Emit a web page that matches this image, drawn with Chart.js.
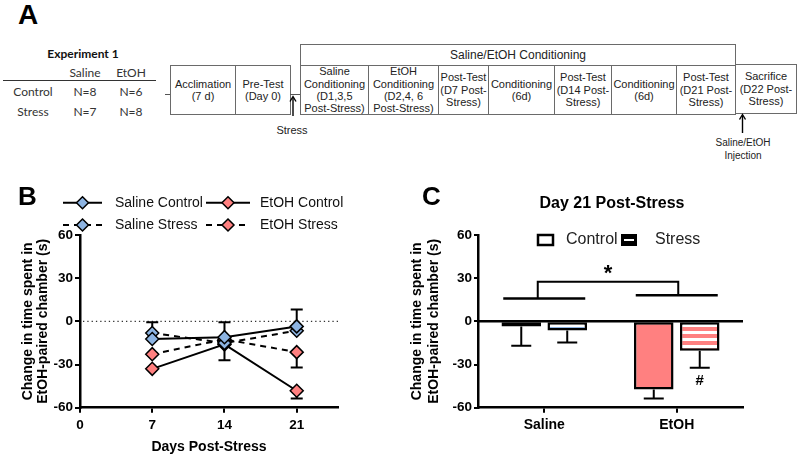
<!DOCTYPE html>
<html>
<head>
<meta charset="utf-8">
<script src="https://cdn.jsdelivr.net/npm/chart.js@4.4.1/dist/chart.umd.min.js"></script>
<style>
body { margin: 0; background: #fff; }
#fig { position: relative; width: 800px; height: 459px; overflow: hidden; font-family: "Liberation Sans", Arial, sans-serif; color: #222; }
.bx { position: absolute; box-sizing: border-box; border: 1px solid #6a6a6a; display: flex; align-items: center; justify-content: center; text-align: center; font-size: 11px; line-height: 12.4px; background: #fff; }
.t { position: absolute; white-space: nowrap; transform: translate(-50%, -50%); }
.tb { font-family: Lato, "Liberation Sans", sans-serif; font-size: 12px; color: #333; }
#chartB { position: absolute; left: 0; top: 180px; }
#chartC { position: absolute; left: 400px; top: 180px; }
</style>
</head>
<body>
<div id="fig">
  <!-- panel A: experiment layout -->
  <div class="t" style="left:28px;top:15px;font-weight:bold;font-size:28px;color:#000">A</div>
  <div class="t tb" style="left:83px;top:53px;font-weight:bold;color:#111">Experiment 1</div>
  <div class="t tb" style="left:85px;top:72px">Saline</div>
  <div class="t tb" style="left:131px;top:72px">EtOH</div>
  <div class="t tb" style="left:33px;top:91px">Control</div>
  <div class="t tb" style="left:85px;top:91px">N=8</div>
  <div class="t tb" style="left:131px;top:91px">N=6</div>
  <div class="t tb" style="left:33px;top:111px">Stress</div>
  <div class="t tb" style="left:85px;top:111px">N=7</div>
  <div class="t tb" style="left:131px;top:111px">N=8</div>

  <div class="bx" style="left:300px;top:44px;width:436px;height:22px;font-size:12px">Saline/EtOH Conditioning</div>
  <div class="bx" style="left:170px;top:65px;width:66px;height:50px">Acclimation<br>(7 d)</div>
  <div class="bx" style="left:235px;top:65px;width:56px;height:50px">Pre-Test<br>(Day 0)</div>
  <div class="bx" style="left:300px;top:65px;width:69px;height:50px">Saline<br>Conditioning<br>(D1,3,5<br>Post-Stress)</div>
  <div class="bx" style="left:368px;top:65px;width:71px;height:50px">EtOH<br>Conditioning<br>(D2,4, 6<br>Post-Stress)</div>
  <div class="bx" style="left:438px;top:65px;width:51px;height:50px">Post-Test<br>(D7 Post-<br>Stress)</div>
  <div class="bx" style="left:488px;top:65px;width:67px;height:50px">Conditioning<br>(6d)</div>
  <div class="bx" style="left:554px;top:65px;width:58px;height:50px">Post-Test<br>(D14 Post-<br>Stress)</div>
  <div class="bx" style="left:611px;top:65px;width:66px;height:50px">Conditioning<br>(6d)</div>
  <div class="bx" style="left:676px;top:65px;width:60px;height:50px">Post-Test<br>(D21 Post-<br>Stress)</div>
  <div class="bx" style="left:735px;top:64px;width:62px;height:50px">Sacrifice<br>(D22 Post-<br>Stress)</div>

  <svg width="800" height="180" style="position:absolute;left:0;top:0">
    <line x1="3" y1="80.5" x2="156" y2="80.5" stroke="#333" stroke-width="1"/>
    <line x1="165" y1="94.5" x2="170" y2="94.5" stroke="#555" stroke-width="1"/>
    <line x1="290" y1="94.5" x2="300" y2="94.5" stroke="#555" stroke-width="1"/>
    <line x1="293" y1="116" x2="293" y2="98" stroke="#000" stroke-width="1.4"/>
    <path d="M290 101.5 L293 96.5 L296 101.5" fill="none" stroke="#000" stroke-width="1.4"/>
    <line x1="742.5" y1="133" x2="742.5" y2="116" stroke="#000" stroke-width="1.4"/>
    <path d="M739.5 119.5 L742.5 114.5 L745.5 119.5" fill="none" stroke="#000" stroke-width="1.4"/>
  </svg>
  <div class="t" style="left:292px;top:130px;font-size:11px">Stress</div>
  <div class="t" style="left:743px;top:142px;font-size:10px">Saline/EtOH</div>
  <div class="t" style="left:743px;top:155px;font-size:10px">Injection</div>

  <canvas id="chartB" width="400" height="279"></canvas>
  <canvas id="chartC" width="400" height="279"></canvas>
</div>

<script>
// ---- panel B data ----
var days = [7, 14, 21];
var dayTicks = [0, 7, 14, 21];
var yTicks = [60, 30, 0, -30, -60];

var salineControl = [-12.3, -11.0, -3.5];
var etohControl   = [-33.0, -16.0, -48.2];
var salineStress  = [-8.1, -15.1, -6.5];
var etohStress    = [-22.8, -12.5, -21.4];

// SEM, only the visible half of each bar (0 = hidden)
var salineControlUp = [0, 10.3, 11.7];
var salineStressUp  = [7.4, 0, 0];
var etohControlDown = [0, 11.0, 5.4];
var etohStressDown  = [0, 0, 10.6];

// ---- panel C data ----
var groups = ['Saline', 'EtOH'];
var day21Control = [-3.5, -47.3];
var day21Stress  = [-6.3, -20.5];
var day21ControlErr = [13.5, 6.3];
var day21StressErr  = [8.4, 11.7];

// significance lines (y values)
var groupLineY = [15.8, 18.1];
var bracketTopY = 27.5;

var blue = '#8DB4E2';
var red = '#FF8080';
var FONT = '"Liberation Sans", Arial, sans-serif';

Chart.defaults.font.family = FONT;
Chart.defaults.color = '#000';

function lineSet(label, vals, fill, dashed, up, down, order) {
  return {
    label: label,
    order: order,
    data: days.map(function (d, i) { return { x: d, y: vals[i] }; }),
    errUp: up, errDown: down,
    borderColor: '#000', borderWidth: 2,
    borderDash: dashed ? [6, 5] : [],
    pointStyle: 'rectRot', pointRadius: 6.5, pointHoverRadius: 6.5,
    pointBackgroundColor: fill, pointBorderColor: '#000', pointBorderWidth: 1.5,
    fill: false, tension: 0, clip: false
  };
}

var zero = [0, 0, 0];

var bExtras = {
  id: 'bExtras',
  beforeDatasetsDraw: function (chart) {
    var ctx = chart.ctx, xs = chart.scales.x, ys = chart.scales.y, a = chart.chartArea;
    // dotted zero line
    ctx.save();
    ctx.strokeStyle = '#333'; ctx.lineWidth = 1.3; ctx.setLineDash([1.3, 3]);
    ctx.beginPath();
    ctx.moveTo(a.left + 3, ys.getPixelForValue(0));
    ctx.lineTo(a.right, ys.getPixelForValue(0));
    ctx.stroke();
    ctx.setLineDash([]);
    // error bars
    ctx.strokeStyle = '#000'; ctx.lineWidth = 2;
    chart.data.datasets.forEach(function (ds) {
      ds.data.forEach(function (p, i) {
        var px = xs.getPixelForValue(p.x), py = ys.getPixelForValue(p.y);
        [[ds.errUp[i], 1], [ds.errDown[i], -1]].forEach(function (e) {
          if (!e[0]) return;
          var ey = ys.getPixelForValue(p.y + e[1] * e[0]);
          ctx.beginPath();
          ctx.moveTo(px, py); ctx.lineTo(px, ey);
          ctx.moveTo(px - 6, ey); ctx.lineTo(px + 6, ey);
          ctx.stroke();
        });
      });
    });
    ctx.restore();
  },
  afterDraw: function (chart) {
    var ctx = chart.ctx;
    ctx.save();
    ctx.fillStyle = '#000';
    ctx.font = 'bold 26px ' + FONT;
    ctx.textBaseline = 'alphabetic';
    ctx.fillText('B', 18, 25);
    // legend: 2 columns, 2 rows
    var cols = [{ x0: 63, x1: 102, tx: 115 }, { x0: 206, x1: 250, tx: 260 }];
    var rows = [22.7, 45];
    ctx.font = '14px ' + FONT;
    ctx.textBaseline = 'middle';
    chart.data.datasets.forEach(function (ds, i) {
      var c = cols[i % 2], y = rows[Math.floor(i / 2)];
      var cx = (c.x0 + c.x1) / 2;
      ctx.strokeStyle = '#000'; ctx.lineWidth = 2;
      ctx.setLineDash(ds.borderDash);
      ctx.beginPath(); ctx.moveTo(c.x0, y); ctx.lineTo(c.x1, y); ctx.stroke();
      ctx.setLineDash([]);
      ctx.beginPath();
      ctx.moveTo(cx, y - 6); ctx.lineTo(cx + 6, y); ctx.lineTo(cx, y + 6); ctx.lineTo(cx - 6, y);
      ctx.closePath();
      ctx.fillStyle = ds.pointBackgroundColor; ctx.fill();
      ctx.lineWidth = 1.5; ctx.stroke();
      ctx.fillStyle = '#111';
      ctx.fillText(ds.label, c.tx, y);
    });
    ctx.restore();
  }
};

new Chart(document.getElementById('chartB'), {
  type: 'line',
  data: {
    datasets: [
      lineSet('Saline Control', salineControl, blue, false, salineControlUp, zero, 0),
      lineSet('EtOH Control', etohControl, red, false, zero, etohControlDown, 2),
      lineSet('Saline Stress', salineStress, blue, true, salineStressUp, zero, 1),
      lineSet('EtOH Stress', etohStress, red, true, zero, etohStressDown, 3)
    ]
  },
  options: {
    responsive: false,
    animation: false,
    layout: { padding: { left: 0, top: 55, right: 62, bottom: 0 } },
    plugins: { legend: { display: false }, tooltip: { enabled: false } },
    scales: {
      x: {
        type: 'linear', min: 0, max: 25,
        afterBuildTicks: function (s) { s.ticks = dayTicks.map(function (v) { return { value: v }; }); },
        afterFit: function (s) { s.height = 51.3; },
        ticks: { font: { size: 13.5, weight: 'bold' }, color: '#000', padding: 4 },
        grid: { drawOnChartArea: false, tickLength: 5, color: '#000', lineWidth: 2 },
        border: { color: '#000', width: 2.5 },
        title: { display: true, text: 'Days Post-Stress', color: '#000', font: { size: 14, weight: 'bold' }, padding: { top: 0, bottom: 3.6 } }
      },
      y: {
        min: -60, max: 60,
        afterBuildTicks: function (s) { s.ticks = yTicks.map(function (v) { return { value: v }; }); },
        afterFit: function (s) { s.width = 80; },
        ticks: { font: { size: 13.5, weight: 'bold' }, color: '#000', padding: 2 },
        grid: { drawOnChartArea: false, tickLength: 5, color: '#000', lineWidth: 2 },
        border: { color: '#000', width: 2.5 },
        title: { display: true, text: ['Change in time spent in', 'EtOH-paired chamber (s)'], color: '#000', font: { size: 14, weight: 'bold', lineHeight: 1.1 }, padding: { top: 20.5, bottom: 0 } }
      }
    }
  },
  plugins: [bExtras]
});

// ---- panel C ----
var ctxC = document.getElementById('chartC').getContext('2d');
function stripes(color) {
  var c = document.createElement('canvas');
  c.width = 4; c.height = 7;
  var g = c.getContext('2d');
  g.fillStyle = color; g.fillRect(0, 0, 4, 4);
  g.fillStyle = '#fff'; g.fillRect(0, 4, 4, 3);
  return ctxC.createPattern(c, 'repeat');
}

var cExtras = {
  id: 'cExtras',
  beforeDatasetsDraw: function (chart) {
    var ctx = chart.ctx, ys = chart.scales.y, a = chart.chartArea;
    ctx.save();
    ctx.strokeStyle = '#000'; ctx.lineWidth = 2.5;
    ctx.beginPath();
    ctx.moveTo(a.left, ys.getPixelForValue(0));
    ctx.lineTo(a.right, ys.getPixelForValue(0));
    ctx.stroke();
    ctx.restore();
  },
  afterDatasetsDraw: function (chart) {
    var ctx = chart.ctx, ys = chart.scales.y, xs = chart.scales.x;
    ctx.save();
    ctx.strokeStyle = '#000'; ctx.lineWidth = 2;
    chart.data.datasets.forEach(function (ds, di) {
      chart.getDatasetMeta(di).data.forEach(function (bar, i) {
        var v = ds.data[i], ey = ys.getPixelForValue(v - ds.err[i]);
        ctx.beginPath();
        ctx.moveTo(bar.x, bar.y); ctx.lineTo(bar.x, ey);
        ctx.moveTo(bar.x - 10, ey); ctx.lineTo(bar.x + 10, ey);
        ctx.stroke();
      });
    });
    // group lines and bracket
    ctx.lineWidth = 2.5;
    var mids = [];
    groups.forEach(function (g, i) {
      var cx = xs.getPixelForValue(i), y = ys.getPixelForValue(groupLineY[i]);
      ctx.beginPath(); ctx.moveTo(cx - 41, y); ctx.lineTo(cx + 41, y); ctx.stroke();
      mids.push({ x: cx + (i === 0 ? -6.5 : 1.5), y: y });
    });
    var top = ys.getPixelForValue(bracketTopY);
    ctx.lineWidth = 2;
    ctx.beginPath();
    ctx.moveTo(mids[0].x, mids[0].y); ctx.lineTo(mids[0].x, top);
    ctx.lineTo(mids[1].x, top); ctx.lineTo(mids[1].x, mids[1].y);
    ctx.stroke();
    ctx.fillStyle = '#000';
    ctx.textAlign = 'center'; ctx.textBaseline = 'middle';
    ctx.font = 'bold 22px ' + FONT;
    ctx.fillText('*', (mids[0].x + mids[1].x) / 2, ys.getPixelForValue(bracketTopY) - 8);
    var st = chart.getDatasetMeta(1).data[1];
    ctx.font = 'bold 15px ' + FONT;
    ctx.fillText('#', st.x, ys.getPixelForValue(day21Stress[1] - day21StressErr[1]) + 13);
    ctx.restore();
  },
  afterDraw: function (chart) {
    var ctx = chart.ctx;
    ctx.save();
    ctx.fillStyle = '#000';
    ctx.font = 'bold 26px ' + FONT;
    ctx.fillText('C', 22, 25);
    ctx.textAlign = 'center'; ctx.textBaseline = 'middle';
    ctx.font = 'bold 16px ' + FONT;
    ctx.fillText('Day 21 Post-Stress', 212, 24);
    // legend
    ctx.textAlign = 'left';
    ctx.font = '16px ' + FONT;
    ctx.lineWidth = 2.5; ctx.strokeStyle = '#000';
    ctx.fillStyle = '#fff';
    ctx.fillRect(138, 55, 15, 10); ctx.strokeRect(138, 55, 15, 10);
    ctx.fillStyle = '#222'; ctx.fillText('Control', 166, 60);
    ctx.fillStyle = '#000'; ctx.fillRect(221, 54, 16, 12);
    ctx.fillStyle = '#fff'; ctx.fillRect(224, 59, 10, 2);
    ctx.fillStyle = '#222'; ctx.fillText('Stress', 255, 60);
    ctx.restore();
  }
};

new Chart(ctxC, {
  type: 'bar',
  data: {
    labels: groups,
    datasets: [
      { label: 'Control', data: day21Control, err: day21ControlErr, backgroundColor: [blue, red] },
      { label: 'Stress', data: day21Stress, err: day21StressErr, backgroundColor: [stripes(blue), stripes(red)] }
    ]
  },
  options: {
    responsive: false,
    animation: false,
    layout: { padding: { left: 0, top: 55, right: 57, bottom: 0 } },
    datasets: { bar: { borderColor: '#000', borderWidth: 2.5, borderSkipped: false, categoryPercentage: 0.694, barPercentage: 0.86 } },
    plugins: { legend: { display: false }, tooltip: { enabled: false } },
    scales: {
      x: {
        afterFit: function (s) { s.height = 51.3; },
        ticks: { font: { size: 14, weight: 'bold' }, color: '#000', padding: 4 },
        grid: { offset: false, drawOnChartArea: false, tickLength: 5, color: '#000', lineWidth: 2 },
        border: { color: '#000', width: 2.5 }
      },
      y: {
        min: -60, max: 60,
        afterBuildTicks: function (s) { s.ticks = yTicks.map(function (v) { return { value: v }; }); },
        afterFit: function (s) { s.width = 78; },
        ticks: { font: { size: 13.5, weight: 'bold' }, color: '#000', padding: 2 },
        grid: { drawOnChartArea: false, tickLength: 4, color: '#000', lineWidth: 2 },
        border: { color: '#000', width: 2.5 },
        title: { display: true, text: ['Change in time spent in', 'EtOH-paired chamber (s)'], color: '#000', font: { size: 14, weight: 'bold', lineHeight: 1.2 }, padding: { top: 9, bottom: 0 } }
      }
    }
  },
  plugins: [cExtras]
});
</script>
</body>
</html>
